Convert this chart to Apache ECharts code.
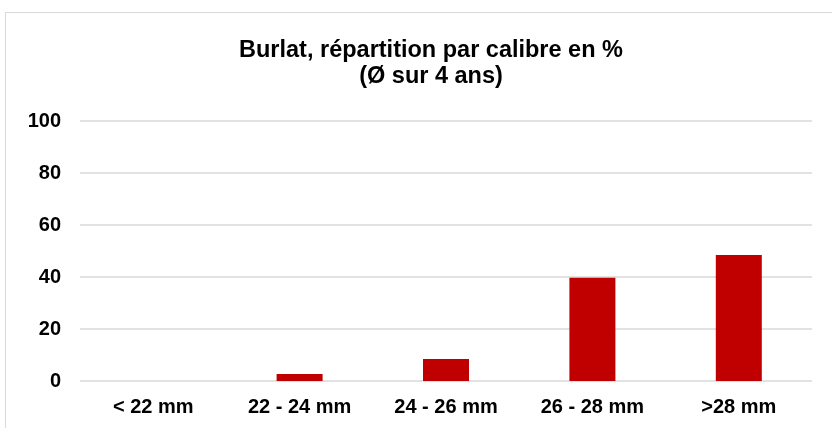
<!DOCTYPE html>
<html>
<head>
<meta charset="utf-8">
<script src="https://cdn.jsdelivr.net/npm/echarts@6/dist/echarts.min.js"></script>
<style>
  html, body { margin: 0; padding: 0; background: #fff; }
  #frame { position: absolute; left: 5px; top: 12px; width: 840px; height: 430px;
           border-left: 1px solid #d9d9d9; border-top: 1px solid #d9d9d9; }
  #chart { position: absolute; left: 0; top: 0; width: 832px; height: 428px; }
</style>
</head>
<body>
<div id="frame"></div>
<div id="chart"></div>
<script>
const categories = ['< 22 mm', '22 - 24 mm', '24 - 26 mm', '26 - 28 mm', '>28 mm']
const shares = [0, 2.7, 8.5, 39.7, 48.5]
const yTicks = [0, 20, 40, 60, 80, 100]

const chart = echarts.init(document.getElementById('chart'))

chart.setOption({
  animation: false,
  title: {
    text: 'Burlat, répartition par calibre en %\n(Ø sur 4 ans)',
    left: 426,
    top: 33,
    textAlign: 'center',
    textStyle: {
      fontFamily: 'Liberation Sans',
      fontWeight: 'bold',
      fontSize: 23.5,
      lineHeight: 26,
      color: '#000'
    }
  },
  grid: {
    left: 80,
    right: 20,
    top: 121,
    bottom: 47
  },
  xAxis: {
    type: 'category',
    data: categories,
    axisLine: { show: false },
    axisTick: { show: false },
    axisLabel: {
      margin: 16,
      fontFamily: 'Liberation Sans',
      fontWeight: 'bold',
      fontSize: 20,
      color: '#000'
    }
  },
  yAxis: {
    type: 'value',
    min: yTicks[0],
    max: yTicks[yTicks.length - 1],
    interval: 20,
    axisLine: { show: false },
    axisTick: { show: false },
    axisLabel: {
      margin: 19,
      fontFamily: 'Liberation Sans',
      fontWeight: 'bold',
      fontSize: 20,
      color: '#000'
    },
    splitLine: { lineStyle: { color: '#d9d9d9', width: 1.5 } }
  },
  series: [
    {
      type: 'bar',
      data: shares,
      barWidth: 46,
      itemStyle: { color: '#c00000' }
    }
  ]
})
</script>
</body>
</html>
